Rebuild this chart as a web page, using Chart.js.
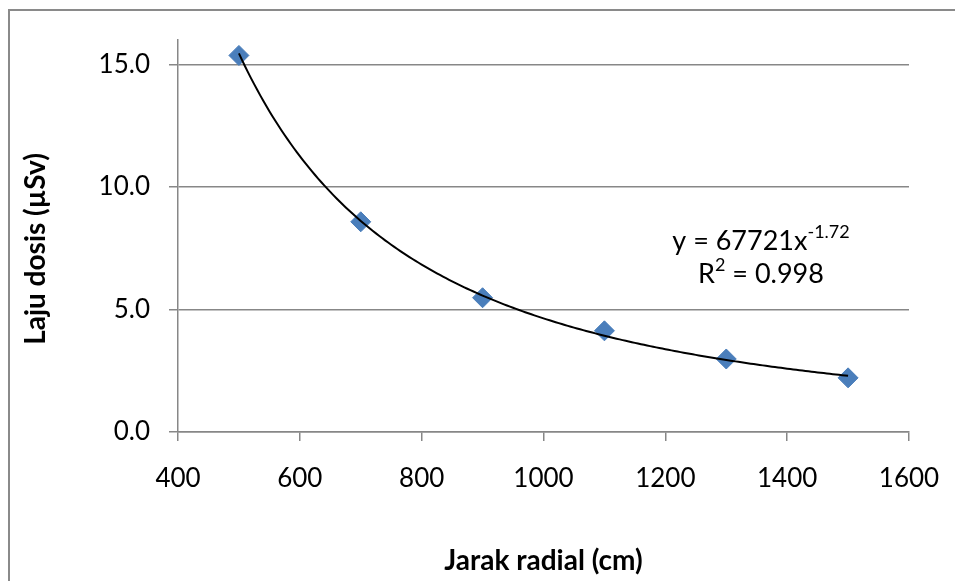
<!DOCTYPE html>
<html>
<head>
<meta charset="utf-8">
<script src="https://cdn.jsdelivr.net/npm/chart.js@4"></script>
<style>
html,body{margin:0;padding:0;background:#fff;}
canvas{display:block;}
</style>
</head>
<body>
<canvas id="c" width="955" height="581"></canvas>
<script>
// ---- data ----
const distances = [500, 700, 900, 1100, 1300, 1500];          // Jarak radial (cm)
const doseRates = [15.37, 8.58, 5.48, 4.13, 2.98, 2.21];       // Laju dosis (µSv)
const xTitle = 'Jarak radial (cm)';
const yTitle = 'Laju dosis (µSv)';
const eqMain = 'y = 67721x';
const eqExp = '-1.72';
const r2Text = ' = 0.998';
const xMin = 400, xMax = 1600, xStep = 200;
const yMin = 0, yMax = 16, yStep = 5;

// power-law trendline fitted (least squares in log space) to the data
function powerFit(xs, ys) {
  const n = xs.length;
  let sx = 0, sy = 0, sxx = 0, sxy = 0;
  for (let i = 0; i < n; i++) {
    const lx = Math.log(xs[i]), ly = Math.log(ys[i]);
    sx += lx; sy += ly; sxx += lx * lx; sxy += lx * ly;
  }
  const b = (n * sxy - sx * sy) / (n * sxx - sx * sx);
  const a = Math.exp((sy - b * sx) / n);
  return {a, b};
}
const fit = powerFit(distances, doseRates);
const trend = [];
for (let x = distances[0]; x <= distances[distances.length - 1]; x += 5) {
  trend.push({x: x, y: fit.a * Math.pow(x, fit.b)});
}

const FONT = 'Lato';
const GRID = '#878787';

const decor = {
  id: 'decor',
  beforeDraw(chart) {
    const ctx = chart.ctx;
    ctx.save();
    ctx.fillStyle = '#fff';
    ctx.fillRect(0, 0, chart.width, chart.height);
    ctx.strokeStyle = '#8a8a8a';
    ctx.lineWidth = 2;
    ctx.beginPath();
    ctx.moveTo(9, chart.height);
    ctx.lineTo(9, 10);
    ctx.lineTo(chart.width, 10);
    ctx.stroke();
    ctx.restore();
  },
  afterDraw(chart) {
    const ctx = chart.ctx;
    ctx.save();
    ctx.fillStyle = '#000';
    // y axis title
    ctx.font = 'bold 28px ' + FONT;
    ctx.textAlign = 'center';
    ctx.textBaseline = 'middle';
    ctx.translate(36, 249);
    ctx.rotate(-Math.PI / 2);
    ctx.fillText(yTitle, 0, 0);
    ctx.restore();

    // equation text
    ctx.save();
    ctx.fillStyle = '#000';
    ctx.textBaseline = 'alphabetic';
    ctx.textAlign = 'left';
    const mainFont = '27px ' + FONT, supFont = '18px ' + FONT;
    ctx.font = mainFont;
    const w1 = ctx.measureText(eqMain).width;
    ctx.font = supFont;
    const w2 = ctx.measureText(eqExp).width;
    let cx = 761, x0 = cx - (w1 + w2) / 2;
    ctx.font = mainFont;
    ctx.fillText(eqMain, x0, 250);
    ctx.font = supFont;
    ctx.fillText(eqExp, x0 + w1, 238);
    ctx.font = mainFont;
    const rw = ctx.measureText('R').width;
    ctx.font = supFont;
    const sw = ctx.measureText('2').width;
    ctx.font = mainFont;
    const tw = ctx.measureText(r2Text).width;
    x0 = cx - (rw + sw + tw) / 2;
    ctx.fillText('R', x0, 283);
    ctx.font = supFont;
    ctx.fillText('2', x0 + rw, 271);
    ctx.font = mainFont;
    ctx.fillText(r2Text, x0 + rw + sw, 283);
    ctx.restore();
  }
};

new Chart(document.getElementById('c'), {
  type: 'scatter',
  data: {
    datasets: [
      {
        type: 'line',
        data: trend,
        borderColor: '#000',
        borderWidth: 2,
        pointRadius: 0,
        fill: false,
        tension: 0,
        order: 0
      },
      {
        data: distances.map((x, i) => ({x: x, y: doseRates[i]})),
        pointStyle: 'rectRot',
        pointRadius: 10,
        backgroundColor: '#4a7ebb',
        borderColor: '#4a7ebb',
        borderWidth: 1,
        order: 1
      }
    ]
  },
  options: {
    responsive: false,
    animation: false,
    devicePixelRatio: 1,
    layout: {padding: {top: 40, right: 46, bottom: 0, left: 0}},
    plugins: {legend: {display: false}, tooltip: {enabled: false}},
    scales: {
      x: {
        type: 'linear',
        min: xMin, max: xMax,
        afterFit(s) { s.height = 149; s.paddingRight = 0; },
        ticks: {stepSize: xStep, color: '#000', font: {family: FONT, size: 26}, padding: 22, maxRotation: 0,
                callback: v => String(v)},
        grid: {drawOnChartArea: false, drawTicks: true, tickLength: 9, color: GRID, lineWidth: 1.5},
        border: {color: GRID, width: 1.5},
        title: {display: true, text: xTitle, color: '#000', font: {family: FONT, size: 28, weight: 'bold'}, padding: {top: 0, bottom: 3}}
      },
      y: {
        type: 'linear',
        min: yMin, max: yMax,
        bounds: 'data',
        afterFit(s) { s.width = 178; },
        afterBuildTicks(s) { s.ticks = s.ticks.filter(t => t.value <= 15); },
        ticks: {stepSize: yStep, includeBounds: false, color: '#000', font: {family: FONT, size: 26}, padding: 19,
                callback: v => Number(v).toFixed(1)},
        grid: {drawOnChartArea: true, drawTicks: true, tickLength: 9, color: GRID, lineWidth: 1.5},
        border: {color: GRID, width: 1.5}
      }
    }
  },
  plugins: [decor]
});
</script>
</body>
</html>
